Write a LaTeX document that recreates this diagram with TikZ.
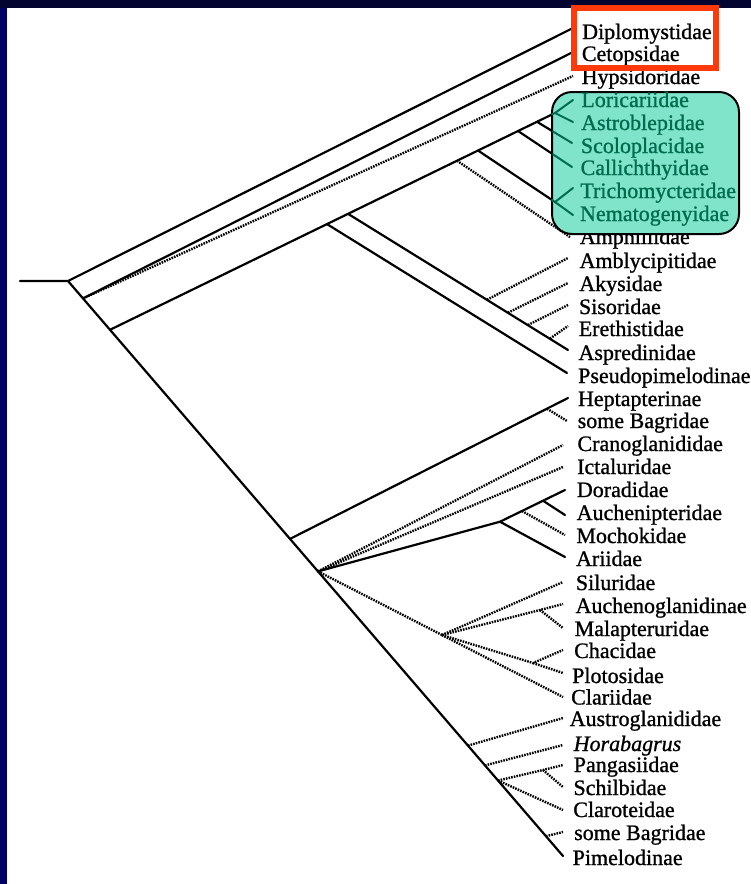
\documentclass[tikz,border=0pt]{standalone}
\usepackage{fontspec}
\setmainfont{Liberation Serif}[FakeBold=1]
\definecolor{navyL}{RGB}{0,0,100}
\definecolor{navyT}{RGB}{4,4,48}
\definecolor{redbox}{RGB}{255,58,10}
\definecolor{tealfill}{RGB}{128,228,202}
\definecolor{tealtext}{RGB}{0,108,78}
\tikzset{
  br/.style={line width=2.2pt, line cap=round},
  dt/.style={line width=2.4pt, dash pattern=on 1.6pt off 1.1pt},
  gr/.style={line width=2pt, draw=tealtext, line cap=round},
  lab/.style={anchor=base west, inner sep=0pt, font=\fontsize{22}{22}\selectfont},
  glab/.style={lab, text=tealtext},
}
\begin{document}
\begin{tikzpicture}[x=1pt,y=-1pt]
% background and border
\fill[white] (0,0) rectangle (751,884);
\useasboundingbox (0,0) rectangle (751,884);
\fill[navyL] (0,0) rectangle (7,884);
\fill[navyT] (0,0) rectangle (751,8);

% ---- internal nodes ----
\coordinate (stub) at (20,281);
\coordinate (root) at (68,281);
\coordinate (n2) at (83,298.4);
\coordinate (n3) at (110,329.8);
\coordinate (n4) at (290,538.9);
\coordinate (n5) at (318,571.4);
\coordinate (a1) at (468,745.6);
\coordinate (a2) at (485,765.4);
\coordinate (a3) at (498,780.5);
\coordinate (a4) at (546,836.2);
\coordinate (lv) at (555,113);
\coordinate (pp) at (327,224.1);
\coordinate (asp) at (348,213.8);
\coordinate (amph) at (457,160.7);
\coordinate (tri) at (478,150.5);
\coordinate (cal) at (518,131);
\coordinate (sco) at (537,121.8);
\coordinate (s1) at (487,299.7);
\coordinate (s2) at (508,312.7);
\coordinate (s3) at (528,325);
\coordinate (s4) at (550,338.6);
\coordinate (hb) at (547,408.7);
\coordinate (dor) at (500,521.7);
\coordinate (moch) at (522,511);
\coordinate (auch) at (543,500.7);
\coordinate (sil) at (442,635);
\coordinate (aum) at (540,610);
\coordinate (cp) at (533,663);
\coordinate (pg) at (543,770);
\coordinate (trv) at (555,202);

% ---- tips ----
\coordinate (tDipl) at (571,29);
\coordinate (tCeto) at (571,53);
\coordinate (tHyps) at (573,76);
\coordinate (tLori) at (573,100);
\coordinate (tAstr) at (573,122);
\coordinate (tScol) at (572,143);
\coordinate (tCall) at (572,167);
\coordinate (tTric) at (573,188);
\coordinate (tNema) at (573,215);
\coordinate (tAmph) at (570,237);
\coordinate (tAmbl) at (568,258);
\coordinate (tAkys) at (568,283);
\coordinate (tSiso) at (568,305);
\coordinate (tEret) at (568,326);
\coordinate (tAspr) at (568,350);
\coordinate (tPseu) at (567,373);
\coordinate (tHept) at (568,398);
\coordinate (tSB1) at (567,421);
\coordinate (tCran) at (563,445);
\coordinate (tIcta) at (563,467);
\coordinate (tDora) at (565,490);
\coordinate (tAuch) at (565,515);
\coordinate (tMoch) at (565,535);
\coordinate (tArii) at (565,557);
\coordinate (tSilu) at (563,582);
\coordinate (tAugl) at (563,604);
\coordinate (tMala) at (563,628);
\coordinate (tChac) at (563,650);
\coordinate (tPlot) at (563,673);
\coordinate (tClar) at (563,697);
\coordinate (tAust) at (563,718);
\coordinate (tHora) at (563,745);
\coordinate (tPang) at (563,765);
\coordinate (tSchi) at (563,787);
\coordinate (tClat) at (563,810);
\coordinate (tSB2) at (563,832);
\coordinate (tPime) at (563,856);

% ---- solid branches ----
\draw[br] (stub) -- (root) -- (tDipl);
\draw[br] (root) -- (tPime);
\draw[br] (n2) -- (tCeto);
\draw[br] (n3) -- (lv);
\draw[br] (sco) -- (tScol);
\draw[br] (cal) -- (tCall);
\draw[br] (tri) -- (trv);
\draw[br] (asp) -- (tAspr);
\draw[br] (pp) -- (tPseu);
\draw[br] (n4) -- (tHept);
\draw[br] (n5) -- (dor) -- (tDora);
\draw[br] (dor) -- (tArii);
\draw[br] (auch) -- (tAuch);

% ---- dotted branches ----
\draw[dt] (n2) -- (tHyps);
\draw[dt] (amph) -- (tAmph);
\draw[dt] (s1) -- (tAmbl);
\draw[dt] (s2) -- (tAkys);
\draw[dt] (s3) -- (tSiso);
\draw[dt] (s4) -- (tEret);
\draw[dt] (hb) -- (tSB1);
\draw[dt] (n5) -- (tCran);
\draw[dt] (n5) -- (tIcta);
\draw[dt] (moch) -- (tMoch);
\draw[dt] (n5) -- (sil);
\draw[dt] (sil) -- (tSilu);
\draw[dt] (sil) -- (aum) -- (tAugl);
\draw[dt] (aum) -- (tMala);
\draw[dt] (sil) -- (cp) -- (tChac);
\draw[dt] (cp) -- (tPlot);
\draw[dt] (sil) -- (tClar);
\draw[dt] (a1) -- (tAust);
\draw[dt] (a2) -- (tHora);
\draw[dt] (a3) -- (pg) -- (tPang);
\draw[dt] (pg) -- (tSchi);
\draw[dt] (a3) -- (tClat);
\draw[dt] (a4) -- (tSB2);

% ---- black labels ----
\node[lab] (Ldipl) at (582,39) {Diplomystidae};
\node[lab] (Lceto) at (581.7,61) {Cetopsidae};
\node[lab] (Lhyps) at (581.5,84) {Hypsidoridae};
\node[lab] (Lamph) at (579.6,244) {Amphiliidae};
\node[lab] (Lambl) at (579.4,268) {Amblycipitidae};
\node[lab] (Lakys) at (579.1,291) {Akysidae};
\node[lab] (Lsiso) at (578.8,314) {Sisoridae};
\node[lab] (Leret) at (578.6,336) {Erethistidae};
\node[lab] (Laspr) at (578.3,360) {Aspredinidae};
\node[lab] (Lpseu) at (578,383) {Pseudopimelodinae};
\node[lab] (Lhept) at (577.8,406) {Heptapterinae};
\node[lab] (Lsb1) at (577.5,428) {some Bagridae};
\node[lab] (Lcran) at (577.3,451) {Cranoglanididae};
\node[lab] (Licta) at (577,474) {Ictaluridae};
\node[lab] (Ldora) at (576.7,497) {Doradidae};
\node[lab] (Lauch) at (576.5,520) {Auchenipteridae};
\node[lab] (Lmoch) at (576.2,543) {Mochokidae};
\node[lab] (Larii) at (575.9,566) {Ariidae};
\node[lab] (Lsilu) at (575.7,590) {Siluridae};
\node[lab] (Laugl) at (575.4,613) {Auchenoglanidinae};
\node[lab] (Lmala) at (574.5,636) {Malapteruridae};
\node[lab] (Lchac) at (574,658) {Chacidae};
\node[lab] (Lplot) at (572,683) {Plotosidae};
\node[lab] (Lclar) at (571,704.5) {Clariidae};
\node[lab] (Laust) at (569.5,726) {Austroglanididae};
\node[lab] (Lhora) at (573.5,751) {\itshape Horabagrus};
\node[lab] (Lpang) at (573.6,772) {Pangasiidae};
\node[lab] (Lschi) at (573.3,795) {Schilbidae};
\node[lab] (Lclat) at (573.1,817) {Claroteidae};
\node[lab] (Lsb2) at (574,840) {some Bagridae};
\node[lab] (Lpime) at (572.5,865) {Pimelodinae};

% ---- teal highlight box ----
\draw[line width=2pt, fill=tealfill, rounded corners=20pt] (552,92) rectangle (739,234);
\coordinate (gLv) at (552,114.5);
\coordinate (gSco) at (553,131.5);
\coordinate (gCal) at (553,154.3);
\coordinate (gTri) at (552,200);
\draw[gr] (gLv) -- (lv) -- (tLori);
\draw[gr] (lv) -- (tAstr);
\draw[gr] (gSco) -- (tScol);
\draw[gr] (gCal) -- (tCall);
\draw[gr] (gTri) -- (trv) -- (tTric);
\draw[gr] (trv) -- (tNema);
\node[glab] (Llori) at (581.2,107) {Loricariidae};
\node[glab] (Lastr) at (581,130) {Astroblepidae};
\node[glab] (Lscol) at (580.7,153) {Scoloplacidae};
\node[glab] (Lcall) at (580.4,175) {Callichthyidae};
\node[glab] (Ltric) at (580.2,198) {Trichomycteridae};
\node[glab] (Lnema) at (579.9,221) {Nematogenyidae};

% ---- red highlight box ----
\draw[redbox, line width=6pt] (574,8) rectangle (716,68);
\end{tikzpicture}
\end{document}
